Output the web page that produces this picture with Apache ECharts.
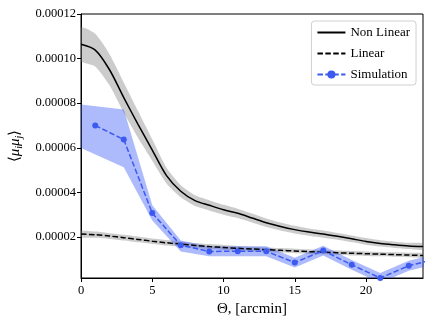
<!DOCTYPE html>
<html>
<head>
<meta charset="UTF-8">
<title>mu correlation</title>
<script src="https://cdn.jsdelivr.net/npm/echarts@6/dist/echarts.min.js"></script>
<style>
  html, body { margin: 0; padding: 0; background: #fff; }
  #chart { width: 436px; height: 327px; }
</style>
</head>
<body>
<div id="chart"></div>
<script>
// theta grid for the model curves
var theta = [0, 1, 2, 3, 4, 5, 6, 7, 8, 9, 10, 11, 12, 13, 14, 15, 16, 17, 18, 19, 20, 21, 22, 23, 24];
// non linear model and its half-width
var nonLinear = [1.064e-4, 1.038e-4, 9.5e-5, 8.25e-5, 7.05e-5, 5.9e-5, 4.75e-5, 4.05e-5, 3.63e-5, 3.42e-5,
  3.22e-5, 3.06e-5, 2.85e-5, 2.64e-5, 2.47e-5, 2.33e-5, 2.22e-5, 2.13e-5, 2.03e-5, 1.92e-5,
  1.8e-5, 1.71e-5, 1.65e-5, 1.6e-5, 1.57e-5];
var nonLinearErr = [7.5e-6, 7.3e-6, 7e-6, 6.8e-6, 6e-6, 4.8e-6, 3.5e-6, 2.7e-6, 2.4e-6, 2.3e-6,
  2.2e-6, 2.1e-6, 2e-6, 1.9e-6, 1.8e-6, 1.7e-6, 1.6e-6, 1.6e-6, 1.5e-6, 1.5e-6,
  1.5e-6, 1.4e-6, 1.4e-6, 1.4e-6, 1.4e-6];
// linear model and its half-width
var linear = [2.13e-5, 2.1e-5, 2.04e-5, 1.97e-5, 1.89e-5, 1.81e-5, 1.74e-5, 1.68e-5, 1.62e-5, 1.57e-5,
  1.53e-5, 1.49e-5, 1.46e-5, 1.43e-5, 1.4e-5, 1.37e-5, 1.34e-5, 1.32e-5, 1.29e-5, 1.27e-5,
  1.25e-5, 1.23e-5, 1.21e-5, 1.19e-5, 1.17e-5];
var linearErr = [1.4e-6, 1.4e-6, 1.3e-6, 1.3e-6, 1.3e-6, 1.2e-6, 1.2e-6, 1.2e-6, 1.1e-6, 1.1e-6,
  1.1e-6, 1.1e-6, 1e-6, 1e-6, 1e-6, 1e-6, 1e-6, 1e-6, 1e-6, 1e-6,
  1e-6, 1e-6, 1e-6, 1e-6, 1e-6];
// simulation points
var simTheta = [1, 3, 5, 7, 9, 11, 13, 15, 17, 19, 21, 23, 25];
var simValue = [7.0e-5, 6.37e-5, 3.07e-5, 1.63e-5, 1.35e-5, 1.36e-5, 1.36e-5, 8.5e-6, 1.39e-5, 7.5e-6, 1.6e-6, 7.1e-6, 1.03e-5];
// simulation band edges
var simBandTheta = [0, 3, 5, 7, 9, 11, 13, 15, 17, 19, 21, 23, 25];
var simBandUpper = [7.94e-5, 7.72e-5, 3.42e-5, 1.84e-5, 1.57e-5, 1.58e-5, 1.58e-5, 1.07e-5, 1.61e-5, 9.7e-6, 3.8e-6, 9.3e-6, 1.25e-5];
var simBandLower = [5.99e-5, 5.13e-5, 2.74e-5, 1.35e-5, 1.13e-5, 1.14e-5, 1.14e-5, 6.3e-6, 1.17e-5, 5.3e-6, -0.6e-6, 4.9e-6, 8.0e-6];

var yTicks = [2e-5, 4e-5, 6e-5, 8e-5, 1e-4, 1.2e-4];
var xTicks = [0, 5, 10, 15, 20];

var font = 'Liberation Serif';
var chart = echarts.init(document.getElementById('chart'));

function pairs(xs, ys) {
  return xs.map(function (x, i) { return [x, ys[i]]; });
}
// filled band between lo and hi, drawn as one polygon through the axes
function band(id, xs, lo, hi, color) {
  var data = xs.map(function (x, i) { return [x, lo[i], hi[i]]; });
  return {
    name: id, type: 'custom', silent: true, clip: true, z: 1,
    data: data,
    encode: { x: 0, y: [1, 2] },
    renderItem: function (params, api) {
      if (params.dataIndex !== 0) return;
      var pts = [];
      data.forEach(function (d) { pts.push(api.coord([d[0], d[2]])); });
      for (var i = data.length - 1; i >= 0; i--) pts.push(api.coord([data[i][0], data[i][1]]));
      return { type: 'polygon', shape: { points: pts, smooth: id === 'simBand' ? 0 : 0.2 }, style: { fill: color } };
    }
  };
}

var nlLo = nonLinear.map(function (v, i) { return v - nonLinearErr[i]; });
var nlHi = nonLinear.map(function (v, i) { return v + nonLinearErr[i]; });
var lnLo = linear.map(function (v, i) { return v - linearErr[i]; });
var lnHi = linear.map(function (v, i) { return v + linearErr[i]; });

var series = [
  band('nlBand', theta, nlLo, nlHi, 'rgba(128,128,128,0.4)'),
  band('lnBand', theta, lnLo, lnHi, 'rgba(128,128,128,0.4)'),
  band('simBand', simBandTheta, simBandLower, simBandUpper, 'rgba(60,90,245,0.42)'),
  {
    name: 'Non Linear', type: 'line', data: pairs(theta, nonLinear), smooth: 0.3,
    symbol: 'none', z: 5, lineStyle: { color: '#000', width: 1.5 }, itemStyle: { color: '#000' }
  },
  {
    name: 'Linear', type: 'line', data: pairs(theta, linear), smooth: 0.3,
    symbol: 'none', z: 5, lineStyle: { color: '#000', width: 1.5, type: [5.5, 2.4] }, itemStyle: { color: '#000' }
  },
  {
    name: 'Simulation', type: 'line', data: pairs(simTheta, simValue),
    symbol: 'circle', symbolSize: 6, z: 6,
    lineStyle: { color: '#3c5af0', width: 1.5, type: [5.5, 2.4] }, itemStyle: { color: '#3c5af0' }
  }
];

var option = {
  animation: false,
  backgroundColor: '#fff',
  textStyle: { fontFamily: font },
  grid: {
    left: 73, right: 13, top: 14, bottom: 49,
    show: true, borderColor: '#000', borderWidth: 1, backgroundColor: 'transparent'
  },
  legend: {
    data: [
      { name: 'Non Linear', itemStyle: { opacity: 0 } },
      { name: 'Linear', itemStyle: { opacity: 0 } },
      { name: 'Simulation' }
    ],
    orient: 'vertical', right: 20, top: 21,
    itemWidth: 28, itemHeight: 10, itemGap: 8,
    padding: [5, 6, 4, 5],
    borderColor: '#d0d0d0', borderWidth: 1, borderRadius: 3,
    backgroundColor: 'rgba(255,255,255,0.8)',
    textStyle: { fontFamily: font, fontSize: 13, color: '#000' }
  },
  xAxis: {
    type: 'value', min: 0, max: 24,
    name: 'Θ, [arcmin]', nameLocation: 'middle', nameGap: 24,
    nameTextStyle: { fontFamily: font, fontSize: 15, color: '#000' },
    axisLine: { show: true, lineStyle: { color: '#000' } },
    axisTick: { show: true, inside: false, length: 4, customValues: xTicks, lineStyle: { color: '#000' } },
    axisLabel: { customValues: xTicks, color: '#000', fontSize: 12.5, fontFamily: font, margin: 6 },
    splitLine: { show: false }
  },
  yAxis: {
    type: 'value', min: 1.6e-6, max: 1.2e-4,
    name: '⟨{it|μ}{sub|i}{it|μ}{sub|j}⟩', nameLocation: 'middle', nameGap: 50,
    nameTextStyle: {
      fontFamily: font, fontSize: 15, color: '#000',
      rich: {
        it: { fontFamily: font, fontStyle: 'italic', fontSize: 15, color: '#000' },
        sub: { fontFamily: font, fontStyle: 'italic', fontSize: 10, color: '#000', padding: [8, 0, 0, 0] }
      }
    },
    axisLine: { show: true, lineStyle: { color: '#000' } },
    axisTick: { show: true, inside: false, length: 4, customValues: yTicks, lineStyle: { color: '#000' } },
    axisLabel: {
      customValues: yTicks, color: '#000', fontSize: 12.5, fontFamily: font, margin: 5,
      formatter: function (v) { return v.toFixed(5); }
    },
    splitLine: { show: false }
  },
  series: series
};

chart.setOption(option);
</script>
</body>
</html>
